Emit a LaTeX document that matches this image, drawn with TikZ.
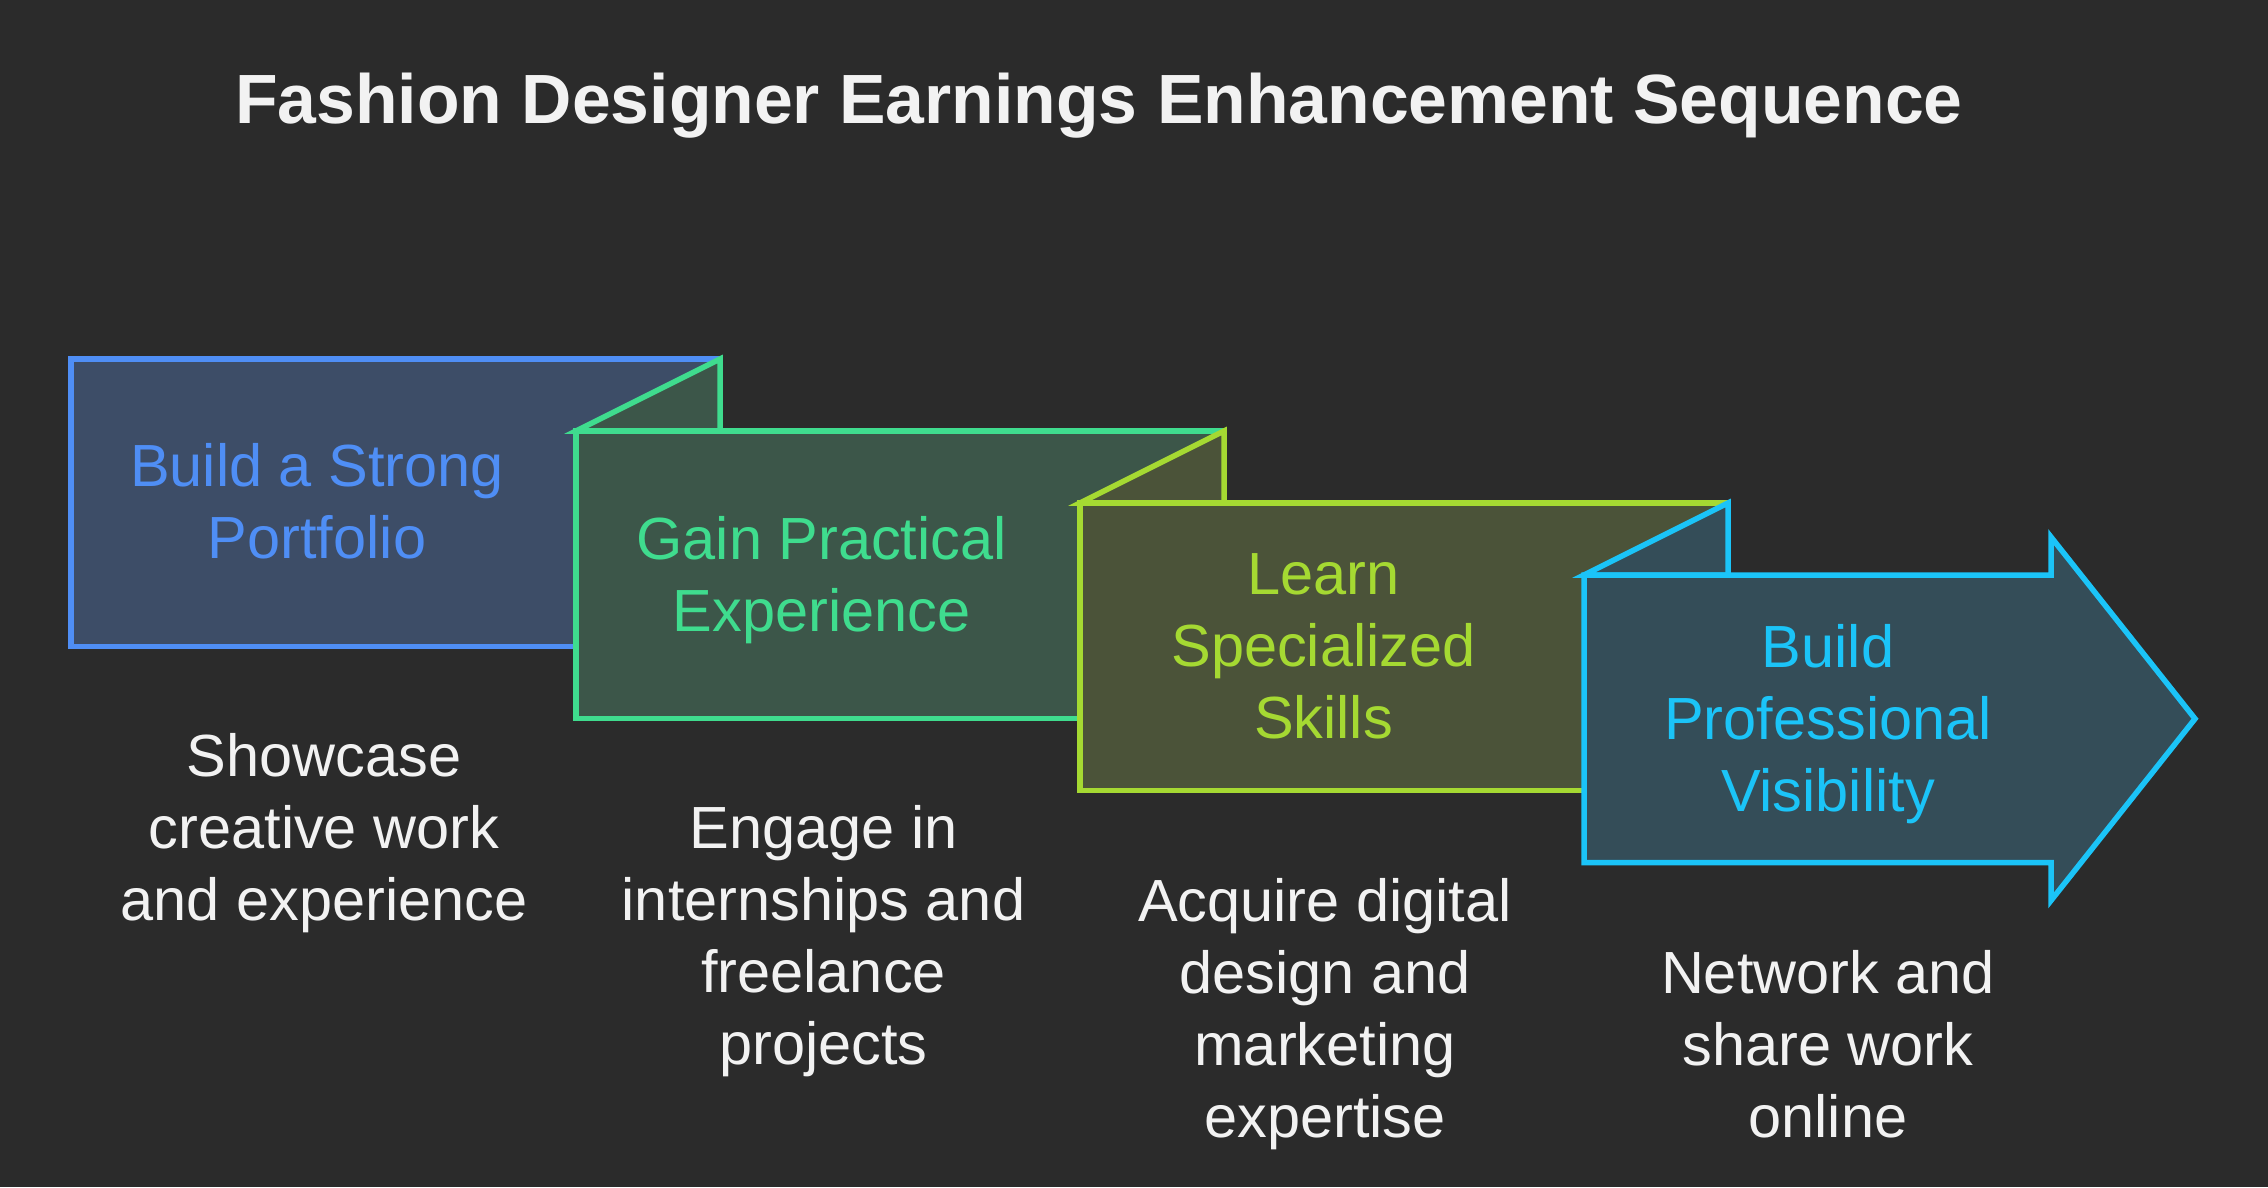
\documentclass[tikz,border=0pt]{standalone}
\usepackage{fontspec}
\setmainfont{Liberation Sans}
\definecolor{bg}{HTML}{2B2B2B}
\definecolor{cA}{HTML}{4F8EF5}
\definecolor{fA}{HTML}{3D4D67}
\definecolor{cB}{HTML}{3FDC8E}
\definecolor{fB}{HTML}{3C5649}
\definecolor{cC}{HTML}{A5D932}
\definecolor{fC}{HTML}{4B5339}
\definecolor{cD}{HTML}{1BC4F8}
\definecolor{fD}{HTML}{344D58}
\definecolor{txt}{HTML}{F2F2F2}
\begin{document}
\begin{tikzpicture}[x=1pt,y=-1pt,line width=5.5pt,
  boxtext/.style={inner sep=0pt,align=center,font=\fontsize{59.5}{72}\selectfont},
  desctext/.style={boxtext,text=txt}]
\fill[bg] (0,0) rectangle (2268,1187);
\useasboundingbox (0,0) rectangle (2268,1187);
% box 1
\filldraw[draw=cA,fill=fA] (71,359) rectangle (720,646.5);
% box 2
\filldraw[draw=cB,fill=fB] (576,431) -- (720,359) -- (720,431) -- cycle;
\filldraw[draw=cB,fill=fB] (576,431) rectangle (1224,718.5);
% box 3
\filldraw[draw=cC,fill=fC] (1080,503) -- (1224,431) -- (1224,503) -- cycle;
\filldraw[draw=cC,fill=fC] (1080,503) rectangle (1728,790.5);
% box 4 (arrow)
\filldraw[draw=cD,fill=fD] (1584,575) -- (1728,503) -- (1728,575) -- cycle;
\filldraw[draw=cD,fill=fD] (1584,575) -- (2051,575) -- (2051,537) -- (2195,718.75)
  -- (2051,900.5) -- (2051,862.5) -- (1584,862.5) -- cycle;
% title
\node[anchor=base,inner sep=0pt,text=txt,font=\fontsize{69.7}{80}\bfseries] (title) at (1099,123.3)
  {Fashion Designer Earnings Enhancement Sequence};
% box titles
\node[boxtext,text=cA] (t1) at (317,501.7) {Build a Strong\\Portfolio};
\node[boxtext,text=cB] (t2) at (821.6,580.6) {Gain Practical\\Experience};
\node[boxtext,text=cC] (t3) at (1323.5,646.7) {Learn\\Specialized\\Skills};
\node[boxtext,text=cD] (t4) at (1828,723.7) {Build\\Professional\\Visibility};
% descriptions
\node[desctext] (d1) at (324,833) {Showcase\\creative work\\and experience};
\node[desctext] (d2) at (823.5,941) {Engage in\\internships and\\freelance\\projects};
\node[desctext] (d3) at (1325,1014) {Acquire digital\\design and\\marketing\\expertise};
\node[desctext] (d4) at (1828,1044) {Network and\\share work\\online};
\end{tikzpicture}
\end{document}
